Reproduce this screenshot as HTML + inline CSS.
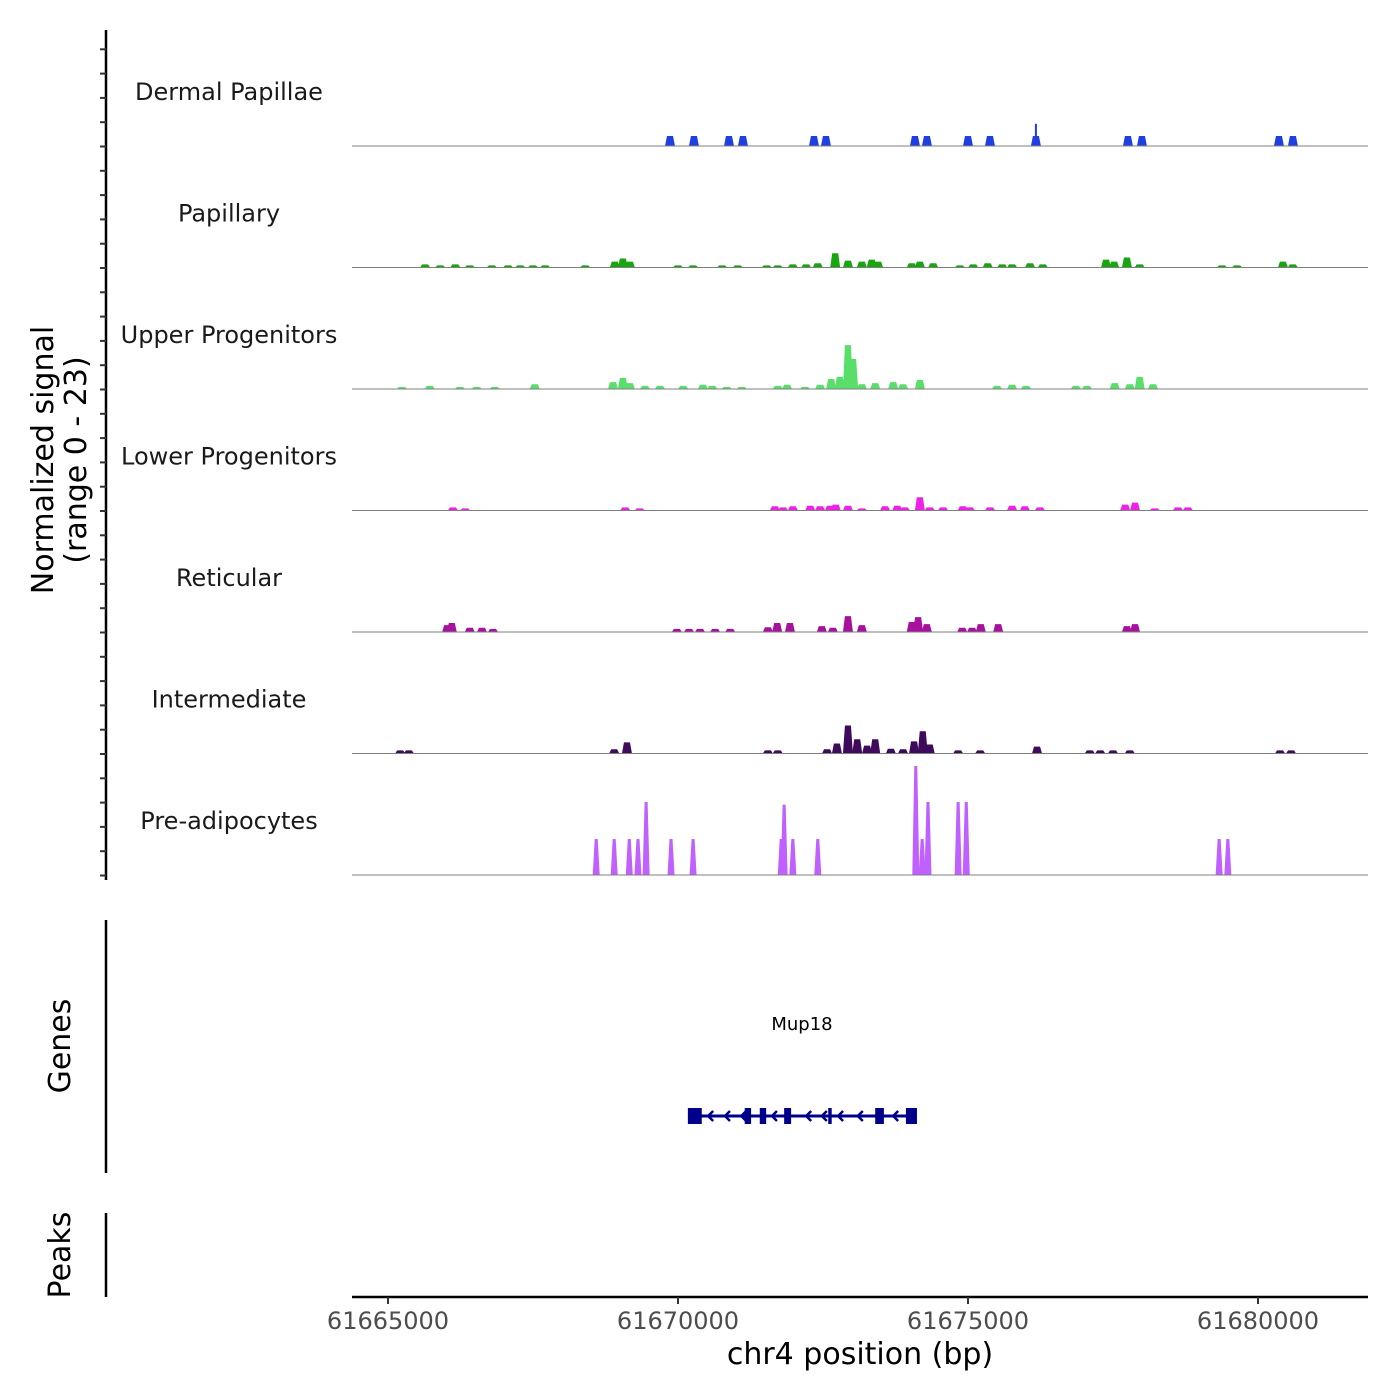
<!DOCTYPE html>
<html><head><meta charset="utf-8"><style>
html,body{margin:0;padding:0;background:#fff}
svg{display:block;font-family:"DejaVu Sans","Liberation Sans",sans-serif}
</style></head><body>
<svg id="chart" width="1400" height="1400" viewBox="0 0 1400 1400" xmlns="http://www.w3.org/2000/svg">
<g id="tracks"></g>
<g id="axes"></g>
<g id="genes"></g>
</svg>
<script>
const trackNames = ["Dermal Papillae","Papillary","Upper Progenitors","Lower Progenitors","Reticular","Intermediate","Pre-adipocytes"];
const trackColors = ["#1f3fe0","#19a50f","#5ade6a","#ee22e6","#a8119e","#3d0a5c","#c061ff"];
const xTicks = [61665000,61670000,61675000,61680000];
const xTickLabels = ["61665000","61670000","61675000","61680000"];
const yMax = 23;

const dpPos = [61669862,61670275,61670879,61671120,61672344,61672551,61674085,61674292,61675000,61675379,61676171,61677758,61677999,61680361,61680602];
const dpVal = [1.9,1.9,1.9,1.9,1.9,1.9,1.9,1.9,1.9,1.9,1.9,1.9,1.9,1.9,1.9];
const dpSpikePos = [61676171];
const dpSpikeVal = [4.2];

const paPos = [61665640,61665900,61666160,61666410,61666790,61667070,61667280,61667500,61667710,61668400,61668910,61669050,61669170,61670000,61670260,61670760,61671030,61671530,61671720,61671980,61672210,61672410,61672710,61672930,61673170,61673340,61673450,61674030,61674170,61674400,61674860,61675090,61675340,61675590,61675760,61676070,61676290,61677380,61677520,61677740,61677960,61679380,61679640,61680430,61680600];
const paVal = [0.6,0.4,0.6,0.4,0.4,0.4,0.4,0.4,0.4,0.4,1.1,1.7,1.1,0.4,0.4,0.4,0.4,0.4,0.4,0.6,0.6,0.8,2.7,1.3,1.1,1.5,1.1,0.8,1.1,0.8,0.4,0.6,0.8,0.6,0.6,0.8,0.6,1.5,1.1,1.9,0.6,0.4,0.4,1.1,0.6];

const upPos = [61665240,61665720,61666240,61666530,61666840,61667530,61668880,61669050,61669170,61669430,61669690,61670090,61670430,61670590,61670840,61671100,61671720,61671880,61672190,61672450,61672640,61672790,61672930,61673020,61673170,61673400,61673710,61673880,61674170,61675500,61675760,61676000,61676860,61677050,61677530,61677790,61677960,61678190];
const upVal = [0.4,0.6,0.4,0.4,0.4,0.9,1.3,2.1,1.1,0.6,0.6,0.6,0.8,0.6,0.4,0.4,0.6,0.8,0.4,0.8,1.9,2.3,8.3,5.7,0.9,1.1,1.3,0.9,1.7,0.6,0.8,0.6,0.6,0.6,1.1,0.9,2.3,0.9];

const loPos = [61666120,61666330,61669090,61669340,61671670,61671810,61671980,61672280,61672450,61672620,61672720,61672930,61673170,61673570,61673780,61673910,61674170,61674340,61674570,61674910,61675030,61675380,61675760,61675980,61676240,61677710,61677880,61678220,61678620,61678790];
const loVal = [0.6,0.4,0.6,0.4,0.8,0.6,0.8,0.9,0.8,0.9,1.1,0.9,0.4,0.8,0.9,0.6,2.5,0.6,0.6,0.8,0.6,0.6,0.9,0.8,0.6,1.1,1.5,0.4,0.6,0.6];

const rePos = [61666020,61666100,61666410,61666620,61666810,61669980,61670190,61670380,61670640,61670900,61671550,61671710,61671930,61672480,61672670,61672930,61673170,61674030,61674140,61674290,61674900,61675070,61675220,61675520,61677740,61677880];
const reVal = [1.3,1.7,0.8,0.8,0.6,0.6,0.6,0.6,0.6,0.6,0.9,1.7,1.7,1.1,0.8,3.0,1.3,1.9,2.8,1.5,0.8,0.8,1.5,1.5,1.1,1.5];

const inPos = [61665210,61665360,61668900,61669120,61671550,61671720,61672570,61672740,61672930,61673090,61673260,61673400,61673670,61673880,61674070,61674220,61674340,61674830,61675210,61676190,61677100,61677280,61677500,61677790,61680380,61680570];
const inVal = [0.6,0.6,0.8,2.1,0.6,0.6,0.8,1.9,5.3,2.7,1.5,2.7,0.9,0.8,2.3,4.2,1.7,0.6,0.6,1.3,0.6,0.6,0.6,0.6,0.6,0.6];

const prPos = [61668590,61668900,61669160,61669310,61669450,61669880,61670260,61671780,61671830,61671980,61672410,61674100,61674210,61674310,61674830,61674970,61679330,61679480];
const prVal = [6.8,6.8,6.8,6.8,13.8,6.8,6.8,6.8,13.3,6.8,6.8,20.6,6.8,13.8,13.8,13.8,6.8,6.8];

const trackPos = [dpPos,paPos,upPos,loPos,rePos,inPos,prPos];
const trackVal = [dpVal,paVal,upVal,loVal,reVal,inVal,prVal];

const exonStart = [61670170,61671150,61671410,61671830,61672590,61673400,61673930];
const exonEnd   = [61670410,61671260,61671520,61671950,61672650,61673550,61674120];
const arrowPos = [61670520,61670810,61671090,61671620,61672210,61672480,61672760,61673100,61673710];
const geneStart = 61670270, geneEnd = 61674030, geneName = "Mup18";

const NS="http://www.w3.org/2000/svg";
const X0=352,X1=1368;
const xs = v => 388 + (v-61665000)*0.058;
const trackTop = 25, trackH = 121.5;
const baseY = i => trackTop + trackH*(i+1) - 0.5;
const ys = (i,v) => baseY(i) - v*(109/20.6);
function mk(tag,attrs,parent){const e=document.createElementNS(NS,tag);for(const k in attrs)e.setAttribute(k,attrs[k]);parent.appendChild(e);return e;}

const tg=document.getElementById('tracks');
trackNames.forEach((name,i)=>{
  const g=mk('g',{},tg);
  
  
  const lab=mk('text',{x:229,y:baseY(i)-46,'text-anchor':'middle','font-size':24,fill:'#1a1a1a'},g);
  lab.textContent=name;
  
  
  const pos=trackPos[i], val=trackVal[i];
  const hw = i===6?3.5:5, tw = i===6?1.5:3;
  pos.forEach((p,j)=>{
    const x=xs(p), b=baseY(i), t=ys(i,val[j]);
    const poly=mk('polygon',{points:`${x-hw},${b} ${x-tw},${t} ${x+tw},${t} ${x+hw},${b}`,fill:trackColors[i]},g);
    
    
  });
  if(i===0){
    dpSpikePos.forEach((p,j)=>{
      const x=xs(p), b=baseY(0), t=ys(0,dpSpikeVal[j]);
      const s=mk('rect',{x:x-1,y:t,width:2,height:b-t,fill:trackColors[0]},g);
      
      
    });
  }
  const bl=mk('line',{x1:X0,x2:X1,y1:baseY(i),y2:baseY(i),stroke:'#7f7f7f','stroke-width':1},g);
  
  
});

const ag=document.getElementById('axes');
let l=mk('line',{x1:106,x2:106,y1:30,y2:880,stroke:'#000','stroke-width':2.5},ag);


for(let y=875.5;y>=45;y-=trackH/5){
  const t=mk('line',{x1:100,x2:106,y1:y,y2:y,stroke:'#333','stroke-width':2},ag);
  
  
}
let yt=mk('text',{transform:'translate(53,460) rotate(-90)','text-anchor':'middle','font-size':30,fill:'#000'},ag);


mk('tspan',{x:0,dy:0},yt).textContent='Normalized signal';
mk('tspan',{x:0,dy:33},yt).textContent='(range 0 - 23)';
l=mk('line',{x1:106,x2:106,y1:920,y2:1173,stroke:'#000','stroke-width':2.5},ag);


let gt=mk('text',{transform:'translate(70,1046) rotate(-90)','text-anchor':'middle','font-size':30,fill:'#000'},ag);
gt.textContent='Genes';


l=mk('line',{x1:106,x2:106,y1:1213,y2:1297,stroke:'#000','stroke-width':2.5},ag);


let pt=mk('text',{transform:'translate(70,1255) rotate(-90)','text-anchor':'middle','font-size':30,fill:'#000'},ag);
pt.textContent='Peaks';


l=mk('line',{x1:X0,x2:X1,y1:1297,y2:1297,stroke:'#000','stroke-width':2.5},ag);


xTicks.forEach((v,i)=>{
  const t=mk('line',{x1:xs(v),x2:xs(v),y1:1297,y2:1304,stroke:'#333','stroke-width':2},ag);
  
  
  const tl=mk('text',{x:xs(v),y:1329,'text-anchor':'middle','font-size':24,fill:'#4d4d4d'},ag);
  tl.textContent=xTickLabels[i];
  
  
});
let xt=mk('text',{x:860,y:1364,'text-anchor':'middle','font-size':30,fill:'#000'},ag);
xt.textContent='chr4 position (bp)';



const gg=document.getElementById('genes');
const gy=1116;
let gl=mk('line',{x1:xs(geneStart),x2:xs(geneEnd),y1:gy,y2:gy,stroke:'#00008b','stroke-width':3},gg);


exonStart.forEach((s,i)=>{
  const x1=xs(s),x2=xs(exonEnd[i]);
  const r=mk('rect',{x:x1,y:gy-8,width:x2-x1,height:16,fill:'#00008b'},gg);
  
  
});
arrowPos.forEach(p=>{
  const x=xs(p);
  const a=mk('polyline',{points:`${x+5},${gy-5} ${x},${gy} ${x+5},${gy+5}`,fill:'none',stroke:'#00008b','stroke-width':2.5},gg);
  
  
});
let gn=mk('text',{x:802,y:1030,'text-anchor':'middle','font-size':18,fill:'#000'},gg);
gn.textContent=geneName;


</script>
</body></html>
